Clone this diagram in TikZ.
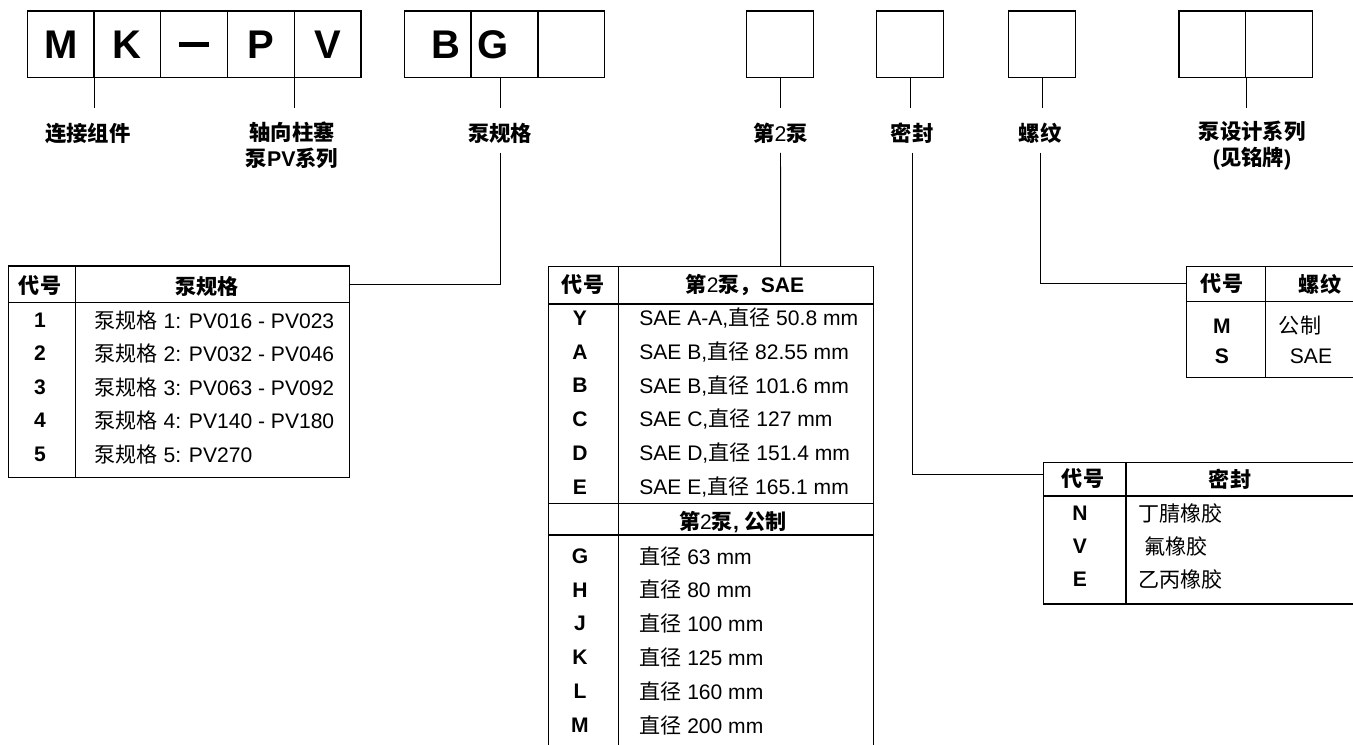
\documentclass[tikz,border=0pt]{standalone}
\usepackage{fontspec}
\setmainfont{Liberation Sans}
\newfontfamily\cjk{Noto Sans CJK SC}
\newcommand{\zh}[1]{{\cjk #1}}
\newcommand{\two}{{\mdseries 2}}

\begin{document}
\begin{tikzpicture}[x=0.75pt, y=-0.75pt,
    cell/.style={draw, line width=0.9pt, minimum width=50.06pt, minimum height=50pt, inner sep=0pt},
    big/.style={font=\fontsize{30}{30}\selectfont\bfseries, inner sep=0pt},
    lbl/.style={font=\fontsize{16}{19.5}\selectfont\bfseries, align=center, inner sep=0pt},
    tbl/.style={line width=0.9pt},
    wire/.style={line width=0.7pt},
    head/.style={font=\fontsize{15.8}{18}\selectfont\bfseries, inner sep=0pt},
    code/.style={font=\fontsize{15.8}{18}\selectfont\bfseries, inner sep=0pt},
    entry/.style={font=\fontsize{15.8}{18}\selectfont, anchor=west, inner sep=0pt}]
  \useasboundingbox (0,0) rectangle (1353,745);
  % code boxes
  \foreach \n/\x in {m/60.7, k/127.4, dash/194.2, p/260.9, v/327.7, b/437.5, g/504.3, opt/571.3,
                     sec/780, seal/910, thr/1042, ds1/1212.3, ds2/1279.2}
    \node[cell] (\n) at (\x,44.4) {};
  \foreach \n/\t in {m/M, k/K, p/P, v/V} \node[big] (\n-txt) at (\n) {\t};
  \node[big] (dash-txt) at (dash) {\rule{22.5pt}{3.8pt}};
  \node[big] (b-txt) at (446,44.4) {B};
  \node[big] (g-txt) at (493,44.4) {G};
  % labels
  \node[lbl] (l-conn) at (88,133) {\zh{连接组件}};
  \node[lbl] (l-pv) at (292,145) {\zh{轴向柱塞}\\\zh{泵}PV\zh{系列}};
  \node[lbl] (l-size) at (500,133) {\zh{泵规格}};
  \node[lbl] (l-sec) at (780.5,133) {\zh{第}\two\zh{泵}};
  \node[lbl] (l-seal) at (912,133) {\zh{密封}};
  \node[lbl] (l-thr) at (1040,133) {\zh{螺纹}};
  \node[lbl] (l-des) at (1252,145) {\zh{泵设计系列}\\(\zh{见铭牌})};
  % stubs below the boxes
  \draw[wire] (m.south east) -- +(0,29.3);
  \draw[wire] (p.south east) -- +(0,29.3);
  \draw[wire] ([xshift=-3.2pt]g.south) -- +(0,29.3);
  \draw[wire] (sec.south) -- +(0,29.3);
  \draw[wire] (seal.south) -- +(0,29.3);
  \draw[wire] (thr.south) -- +(0,29.3);
  \draw[wire] (ds1.south east) -- +(0,29.3);
  \foreach \l in {l-size, l-sec, l-seal, l-thr}
    \coordinate (\l-foot) at ([yshift=-15pt]\l.center);

  % size table
  \draw[tbl] (8.3,266) rectangle (349.3,477.7);
  \draw[tbl] (8.3,302.3) -- (349.3,302.3) (75.7,266) -- (75.7,477.7);
  \node[head] (t1-h1) at (40,286) {\zh{代号}};
  \node[head] (t1-h2) at (207,286) {\zh{泵规格}};
  \foreach \c/\t [count=\i] in {1/{\zh{泵规格} 1: PV016 - PV023}, 2/{\zh{泵规格} 2: PV032 - PV046},
      3/{\zh{泵规格} 3: PV063 - PV092}, 4/{\zh{泵规格} 4: PV140 - PV180}, 5/{\zh{泵规格} 5: PV270}} {
    \node[code] (t1-c\i) at (40,{320+33.5*(\i-1)}) {\c};
    \node[entry] (t1-e\i) at (94.3,{320+33.5*(\i-1)}) {\t};
  }
  \coordinate (t1-hook) at (349.3,284);
  \draw[wire] (l-size-foot) |- (t1-hook);

  % second pump table
  \draw[tbl] (548.3,750) -- (548.3,266.7) -- (873.3,266.7) -- (873.3,750);
  \draw[tbl] (548.3,304) -- (873.3,304) (548.3,503.3) -- (873.3,503.3)
             (548.3,535) -- (873.3,535) (618.3,266.7) -- (618.3,750);
  \node[head] (t2-h1) at (583,285) {\zh{代号}};
  \node[head] (t2-h2) at (745,285) {\zh{第}\two\zh{泵，}SAE};
  \node[head] (t2-h3) at (733,522.3) {\zh{第}\two\zh{泵}, \zh{公制}};
  \foreach \c/\t [count=\i] in {Y/{SAE A-A,\zh{直径} 50.8 mm}, A/{SAE B,\zh{直径} 82.55 mm},
      B/{SAE B,\zh{直径} 101.6 mm}, C/{SAE C,\zh{直径} 127 mm}, D/{SAE D,\zh{直径} 151.4 mm},
      E/{SAE E,\zh{直径} 165.1 mm}} {
    \node[code] (t2-c\i) at (580,{318.3+33.7*(\i-1)}) {\c};
    \node[entry] (t2-e\i) at (639,{318.3+33.7*(\i-1)}) {\t};
  }
  \foreach \c/\t [count=\i] in {G/63, H/80, J/100, K/125, L/160, M/200} {
    \node[code] (t2-m\i) at (580,{556+33.8*(\i-1)}) {\c};
    \node[entry] (t2-f\i) at (639,{556+33.8*(\i-1)}) {\zh{直径} \t\ mm};
  }
  \coordinate (t2-hook) at (780.7,266.7);
  \draw[wire] (l-sec-foot) -- (t2-hook);

  % thread table
  \draw[tbl] (1360,266.7) -- (1186.7,266.7) -- (1186.7,377.7) -- (1360,377.7);
  \draw[tbl] (1186.7,301.7) -- (1360,301.7) (1265.7,266.7) -- (1265.7,377.7);
  \node[head] (t3-h1) at (1222,284) {\zh{代号}};
  \node[head] (t3-h2) at (1320,284) {\zh{螺纹}};
  \node[code] (t3-c1) at (1222,326) {M};
  \node[code] (t3-c2) at (1222,356.7) {S};
  \node[entry, anchor=center] (t3-e1) at (1300,326) {\zh{公制}};
  \node[entry, anchor=center] (t3-e2) at (1311,356.7) {SAE};
  \coordinate (t3-hook) at (1186.7,283.3);
  \draw[wire] (l-thr-foot) |- (t3-hook);

  % seal table
  \draw[tbl] (1360,462.7) -- (1043.3,462.7) -- (1043.3,604) -- (1360,604);
  \draw[tbl] (1043.3,496) -- (1360,496) (1126,462.7) -- (1126,604);
  \node[head] (t4-h1) at (1083,479) {\zh{代号}};
  \node[head] (t4-h2) at (1230,479) {\zh{密封}};
  \foreach \c/\t [count=\i] in {N/{\zh{丁腈橡胶}}, V/{\hspace{4.3pt}\zh{氟橡胶}}, E/{\zh{乙丙橡胶}}} {
    \node[code] (t4-c\i) at (1080,{513.3+33*(\i-1)}) {\c};
    \node[entry] (t4-e\i) at (1138.3,{513.3+33*(\i-1)}) {\t};
  }
  \coordinate (t4-hook) at (1043.3,474);
  \draw[wire] (l-seal-foot) |- (t4-hook);
\end{tikzpicture}
\end{document}
